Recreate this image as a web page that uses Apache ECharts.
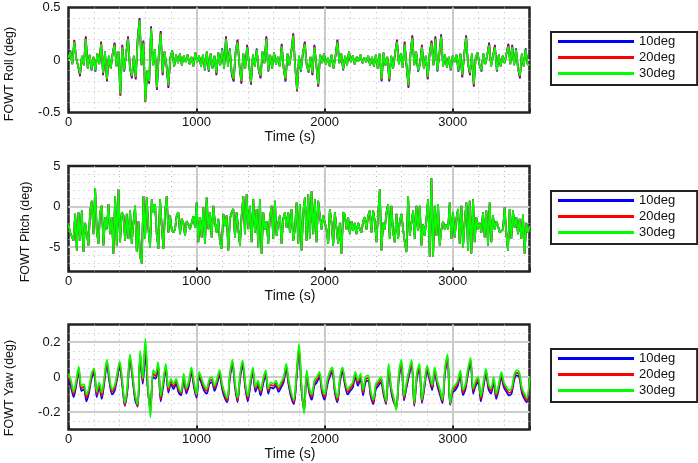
<!DOCTYPE html>
<html>
<head>
<meta charset="utf-8">
<title>FOWT roll / pitch / yaw</title>
<script src="https://cdn.jsdelivr.net/npm/echarts@6/dist/echarts.min.js"></script>
<style>
  html, body { margin: 0; padding: 0; background: #fff; }
  #chart { width: 698px; height: 463px; }
</style>
</head>
<body>
<div id="chart"></div>
<script>
// sample spacing (s) of the values
const rollStep = 15;
const pitchStep = 13;
const yawStep = 20;

const legendNames = ['10deg', '20deg', '30deg'];
const timeTicks = [0, 1000, 2000, 3000];

// Roll (deg)
const roll10 = [
  0.02,0.09,-0.04,0.19,0.02,-0.06,-0.155,0.04,-0.05,0.225,
  -0.08,0.05,-0.1,0.03,-0.11,0.06,-0.04,0.175,-0.145,0.08,
  -0.205,0.04,-0.08,0.06,0.165,-0.06,0.08,-0.34,0.145,-0.11,
  0.06,0.225,-0.08,-0.175,0.04,-0.185,0.205,0.4,-0.05,0.185,
  -0.395,-0.1,-0.225,0.32,-0.05,0.1,-0.285,0.05,0.275,-0.145,
  0.08,-0.05,-0.265,0.02,0.09,-0.06,0.05,-0.03,0.06,-0.05,
  0.04,-0.02,0.05,-0.04,0.03,-0.06,0.07,-0.02,0.04,-0.06,
  0.05,-0.1,0.08,-0.11,0.06,-0.08,0.04,-0.145,0.07,-0.05,
  0.11,-0.08,0.225,-0.06,0.11,-0.145,-0.205,0.08,0.195,-0.05,
  -0.225,0.06,-0.08,0.145,-0.04,-0.235,0.05,-0.06,0.11,-0.1,
  -0.175,0.08,-0.03,0.225,-0.11,0.05,-0.08,0.07,-0.04,0.03,
  -0.06,0.155,-0.08,-0.205,0.06,-0.05,0.08,0.255,-0.06,-0.3,
  0.04,-0.11,0.06,0.175,-0.05,-0.12,0.03,-0.145,0.145,-0.04,
  -0.255,0.05,-0.03,0.06,-0.04,0.02,-0.06,0.05,-0.08,0.04,
  0.195,-0.03,0.06,-0.1,0.04,-0.05,0.08,-0.02,0.04,-0.04,
  0.03,-0.01,0.05,-0.03,0.02,-0.02,0.04,-0.05,0.03,-0.06,
  0.05,-0.08,0.06,-0.205,0.07,-0.05,0.03,-0.205,0.04,-0.08,
  0.06,0.195,-0.04,0.06,-0.07,0.175,-0.06,-0.265,0.05,0.235,
  -0.05,0.08,-0.11,-0.04,0.145,-0.08,0.04,-0.185,0.06,0.185,
  -0.05,0.225,-0.11,0.04,0.245,-0.06,0.05,-0.07,0.03,-0.1,
  0.04,-0.02,0.05,-0.11,0.06,-0.165,0.05,0.235,-0.04,-0.145,
  0.06,-0.255,0.03,0.07,-0.05,-0.11,0.06,-0.04,0.05,0.165,
  -0.06,0.04,0.145,-0.11,0.05,-0.06,0.04,-0.03,0.06,0.155,
  -0.04,0.145,-0.05,0.11,-0.08,-0.175,0.06,-0.06,0.11,-0.04,
  -0.05
];
const roll20 = [
  0.02,0.08,-0.04,0.185,0.02,-0.06,-0.145,0.04,-0.05,0.215,
  -0.08,0.05,-0.09,0.03,-0.1,0.06,-0.04,0.165,-0.135,0.08,
  -0.195,0.04,-0.08,0.06,0.155,-0.06,0.08,-0.335,0.135,-0.1,
  0.06,0.215,-0.08,-0.165,0.04,-0.175,0.195,0.39,-0.05,0.175,
  -0.4,-0.1,-0.215,0.31,-0.05,0.1,-0.275,0.05,0.265,-0.135,
  0.08,-0.05,-0.255,0.02,0.09,-0.06,0.05,-0.03,0.06,-0.05,
  0.04,-0.02,0.05,-0.04,0.03,-0.06,0.07,-0.02,0.04,-0.06,
  0.05,-0.09,0.08,-0.1,0.06,-0.08,0.04,-0.135,0.07,-0.05,
  0.1,-0.08,0.215,-0.06,0.1,-0.135,-0.195,0.08,0.185,-0.05,
  -0.215,0.06,-0.08,0.135,-0.04,-0.225,0.05,-0.06,0.1,-0.09,
  -0.165,0.08,-0.03,0.215,-0.1,0.05,-0.08,0.07,-0.04,0.03,
  -0.06,0.145,-0.08,-0.195,0.06,-0.05,0.08,0.245,-0.06,-0.295,
  0.04,-0.1,0.06,0.165,-0.05,-0.11,0.03,-0.135,0.135,-0.04,
  -0.245,0.05,-0.03,0.06,-0.04,0.02,-0.06,0.05,-0.08,0.04,
  0.185,-0.03,0.06,-0.09,0.04,-0.05,0.08,-0.02,0.04,-0.04,
  0.03,-0.01,0.05,-0.03,0.02,-0.02,0.04,-0.05,0.03,-0.06,
  0.05,-0.08,0.06,-0.195,0.07,-0.05,0.03,-0.195,0.04,-0.08,
  0.06,0.185,-0.04,0.06,-0.07,0.165,-0.06,-0.255,0.05,0.225,
  -0.05,0.08,-0.1,-0.04,0.135,-0.08,0.04,-0.175,0.06,0.175,
  -0.05,0.215,-0.1,0.04,0.235,-0.06,0.05,-0.07,0.03,-0.09,
  0.04,-0.02,0.05,-0.1,0.06,-0.155,0.05,0.225,-0.04,-0.135,
  0.06,-0.245,0.03,0.07,-0.05,-0.1,0.06,-0.04,0.05,0.155,
  -0.06,0.04,0.135,-0.1,0.05,-0.06,0.04,-0.03,0.06,0.145,
  -0.04,0.135,-0.05,0.1,-0.08,-0.165,0.06,-0.06,0.1,-0.04,
  -0.05
];
const roll30 = [
  0.02,0.08,-0.04,0.17,0.02,-0.06,-0.13,0.04,-0.05,0.2,
  -0.08,0.05,-0.09,0.03,-0.1,0.06,-0.04,0.15,-0.12,0.08,
  -0.18,0.04,-0.08,0.06,0.14,-0.06,0.08,-0.32,0.12,-0.1,
  0.06,0.2,-0.08,-0.15,0.04,-0.16,0.18,0.38,-0.05,0.16,
  -0.39,-0.1,-0.2,0.3,-0.05,0.1,-0.26,0.05,0.25,-0.12,
  0.08,-0.05,-0.24,0.02,0.09,-0.06,0.05,-0.03,0.06,-0.05,
  0.04,-0.02,0.05,-0.04,0.03,-0.06,0.07,-0.02,0.04,-0.06,
  0.05,-0.09,0.08,-0.1,0.06,-0.08,0.04,-0.12,0.07,-0.05,
  0.1,-0.08,0.2,-0.06,0.1,-0.12,-0.18,0.08,0.17,-0.05,
  -0.2,0.06,-0.08,0.12,-0.04,-0.21,0.05,-0.06,0.1,-0.09,
  -0.15,0.08,-0.03,0.2,-0.1,0.05,-0.08,0.07,-0.04,0.03,
  -0.06,0.13,-0.08,-0.18,0.06,-0.05,0.08,0.23,-0.06,-0.28,
  0.04,-0.1,0.06,0.15,-0.05,-0.11,0.03,-0.12,0.12,-0.04,
  -0.23,0.05,-0.03,0.06,-0.04,0.02,-0.06,0.05,-0.08,0.04,
  0.17,-0.03,0.06,-0.09,0.04,-0.05,0.08,-0.02,0.04,-0.04,
  0.03,-0.01,0.05,-0.03,0.02,-0.02,0.04,-0.05,0.03,-0.06,
  0.05,-0.08,0.06,-0.18,0.07,-0.05,0.03,-0.18,0.04,-0.08,
  0.06,0.17,-0.04,0.06,-0.07,0.15,-0.06,-0.24,0.05,0.21,
  -0.05,0.08,-0.1,-0.04,0.12,-0.08,0.04,-0.16,0.06,0.16,
  -0.05,0.2,-0.1,0.04,0.22,-0.06,0.05,-0.07,0.03,-0.09,
  0.04,-0.02,0.05,-0.1,0.06,-0.14,0.05,0.21,-0.04,-0.12,
  0.06,-0.23,0.03,0.07,-0.05,-0.1,0.06,-0.04,0.05,0.14,
  -0.06,0.04,0.12,-0.1,0.05,-0.06,0.04,-0.03,0.06,0.13,
  -0.04,0.12,-0.05,0.1,-0.08,-0.15,0.06,-0.06,0.1,-0.04,
  -0.05
];

// Pitch (deg) - the three curves sit on top of each other in the picture
const pitch30 = [
  -2.2,-3.2,-3.2,-4.2,-0.9,-5.4,-0.7,-4.2,-0.5,-5.6,
  -2.0,-1.8,-4.8,-0.5,0.7,-3.4,2.3,-3.0,-4.6,-0.7,
  0.1,-4.8,-1.3,-2.8,0.3,-3.4,-1.3,-5.8,1.3,-4.8,
  2.1,-4.4,-0.7,-1.1,-4.2,-0.9,-4.0,-0.5,-4.6,-2.0,
  0.1,-5.6,-1.8,-6.2,-7.0,1.3,-4.0,1.1,-2.8,-5.0,
  0.9,-0.7,0.3,-3.4,-5.2,0.9,-2.4,-5.2,-0.7,1.3,
  -3.2,-1.1,-2.8,-3.2,-2.8,-1.1,-0.7,-3.4,-1.5,-2.0,
  -3.6,-1.8,-2.2,-2.8,-2.6,-1.2,-2.6,0.5,-4.4,-1.3,
  -3.8,-0.1,-4.6,1.1,-2.8,-0.7,-3.8,0.1,-2.0,-3.2,
  -1.5,-4.4,-5.2,-0.9,-2.4,-1.1,-5.4,-1.5,-0.7,-0.3,
  -3.8,-0.7,-2.8,-4.8,-1.1,1.3,-3.4,1.5,-2.8,0.1,
  -4.4,0.9,-3.2,-0.3,-5.0,0.9,-5.8,-0.7,-2.8,-1.8,
  -4.6,-1.3,0.1,-4.0,0.7,-3.6,-2.0,-1.1,-4.6,-1.5,
  -0.7,-2.6,
  -0.7,-3.2,-0.3,-4.2,-2.8,0.5,-4.6,0.3,-5.4,-0.7,
  1.1,-4.2,1.5,-4.0,1.9,-3.4,0.9,-4.4,0.7,-1.1,
  -2.8,-1.1,-2.0,-2.8,-4.6,-0.3,-2.0,-4.8,-0.7,-0.9,
  -4.6,-2.0,-5.8,-0.7,-1.0,-2.8,-1.3,-3.4,-1.8,-3.0,
  -2.0,-3.4,-2.0,-2.8,-3.2,-1.8,-1.3,-2.8,-1.1,-0.5,
  -3.2,-0.5,-1.8,-4.4,-0.9,2.1,-5.4,-2.0,-2.8,-0.7,
  0.3,-4.0,0.1,-3.2,-4.4,-0.9,-4.0,-1.8,-0.9,-2.8,
  -4.4,-5.6,1.3,-3.6,-2.0,-0.5,-4.0,0.1,-3.0,0.1,
  -4.8,-2.2,-3.6,-1.5,0.9,-6.2,3.5,-6.2,0.1,-3.6,
  0.3,-4.8,-2.8,-1.8,-2.8,-2.2,-2.8,0.5,-4.0,-0.7,
  -3.8,-1.5,-0.3,-4.6,0.1,-5.0,-1.8,0.5,-5.4,0.7,
  -5.8,0.9,-4.4,-1.3,-2.8,-2.0,-3.2,-0.7,-3.8,-0.5,
  -4.8,0.5,-4.4,-1.1,-2.8,-1.8,-2.4,-3.2,-3.4,-2.8,
  -0.1,-3.4,-5.4,-0.3,-4.0,-0.5,-2.6,-1.3,-3.4,
  -1.5,-4.0,-1.0,-5.8,-2.0,-3.2,-2.4
];
const pitch20 = pitch30;
const pitch10 = pitch30;

// Yaw (deg)
const yaw10 = [
  -0.01,-0.06,-0.115,-0.05,0.03,-0.08,-0.07,-0.14,-0.09,-0.01,
  0.02,-0.115,-0.06,-0.125,-0.03,0.065,-0.03,-0.1,-0.08,-0.01,
  0.06,-0.05,-0.165,-0.08,0.1,-0.01,-0.13,-0.17,0.11,-0.04,
  0.13,-0.08,-0.18,0.0,-0.01,0.05,-0.14,-0.05,0.045,-0.09,
  -0.04,-0.07,-0.04,-0.09,-0.105,-0.01,-0.095,-0.05,0.025,-0.06,
  -0.12,0.0,-0.04,-0.08,-0.095,-0.04,-0.03,-0.08,-0.04,0.01,
  -0.07,-0.12,-0.145,-0.01,0.07,-0.06,-0.145,-0.01,0.065,-0.06,
  -0.14,-0.05,0.025,-0.085,-0.05,-0.105,-0.04,0.01,-0.095,-0.06,
  -0.065,-0.05,-0.085,-0.06,-0.03,0.045,-0.05,-0.12,-0.155,-0.02,
  0.15,-0.08,-0.185,0.01,-0.09,-0.13,-0.05,-0.03,0.0,-0.09,
  -0.13,-0.05,0.0,0.025,-0.09,-0.145,-0.03,0.025,-0.05,-0.1,
  -0.08,-0.06,0.0,-0.05,-0.01,-0.105,-0.03,-0.02,-0.11,-0.155,
  -0.07,-0.05,-0.03,-0.1,-0.155,0.045,-0.085,-0.145,-0.17,-0.01,
  0.07,-0.135,-0.06,0.01,0.07,-0.165,-0.01,0.045,-0.15,-0.06,
  0.035,-0.02,-0.075,0.025,-0.05,-0.1,-0.15,0.02,0.1,-0.16,
  -0.09,-0.075,-0.05,0.008,-0.105,-0.07,0.02,0.08,-0.095,-0.05,
  -0.03,-0.14,-0.06,0.017,-0.07,-0.095,-0.03,-0.125,-0.07,-0.002,
  -0.06,-0.085,-0.105,-0.095,-0.02,0.01,-0.002,-0.09,-0.125,-0.145,
  -0.03
];
const yaw20 = [
  0.0,-0.04,-0.1,-0.035,0.045,-0.065,-0.055,-0.12,-0.075,0.005,
  0.035,-0.1,-0.045,-0.11,-0.015,0.085,-0.015,-0.085,-0.065,0.005,
  0.075,-0.035,-0.16,-0.065,0.115,0.005,-0.115,-0.165,0.13,-0.025,
  0.19,-0.065,-0.2,0.02,0.005,0.07,-0.125,-0.035,0.06,-0.075,
  -0.025,-0.055,-0.025,-0.075,-0.095,0.005,-0.08,-0.035,0.04,-0.045,
  -0.11,0.015,-0.025,-0.065,-0.08,-0.025,-0.015,-0.065,-0.025,0.025,
  -0.055,-0.105,-0.135,0.005,0.085,-0.045,-0.135,0.005,0.08,-0.045,
  -0.125,-0.035,0.04,-0.07,-0.035,-0.09,-0.025,0.025,-0.08,-0.045,
  -0.05,-0.035,-0.07,-0.045,-0.015,0.06,-0.035,-0.105,-0.145,0.0,
  0.17,-0.065,-0.2,0.025,-0.075,-0.115,-0.035,-0.015,0.015,-0.075,
  -0.115,-0.035,0.015,0.04,-0.075,-0.135,-0.015,0.04,-0.035,-0.085,
  -0.065,-0.045,0.015,-0.035,0.005,-0.09,-0.015,-0.005,-0.095,-0.145,
  -0.055,-0.035,-0.015,-0.085,-0.15,0.06,-0.07,-0.135,-0.18,0.005,
  0.085,-0.125,-0.045,0.025,0.085,-0.16,0.005,0.06,-0.14,-0.045,
  0.05,-0.005,-0.06,0.04,-0.035,-0.085,-0.14,0.035,0.115,-0.155,
  -0.075,-0.06,-0.035,0.023,-0.09,-0.055,0.035,0.095,-0.08,-0.035,
  -0.015,-0.125,-0.045,0.032,-0.055,-0.08,-0.015,-0.11,-0.055,0.013,
  -0.045,-0.07,-0.09,-0.08,-0.005,0.025,0.013,-0.075,-0.11,-0.135,
  -0.015
];
const yaw30 = [
  0.02,-0.02,-0.085,-0.02,0.06,-0.05,-0.04,-0.1,-0.06,0.02,
  0.05,-0.085,-0.03,-0.09,0.0,0.1,0.0,-0.07,-0.05,0.02,
  0.09,-0.02,-0.15,-0.05,0.13,0.02,-0.1,-0.155,0.15,-0.01,
  0.22,-0.05,-0.23,0.04,0.02,0.085,-0.11,-0.02,0.075,-0.06,
  -0.01,-0.04,-0.01,-0.06,-0.085,0.02,-0.065,-0.02,0.055,-0.03,
  -0.1,0.03,-0.01,-0.05,-0.065,-0.01,0.0,-0.05,-0.01,0.04,
  -0.04,-0.09,-0.12,0.02,0.1,-0.03,-0.12,0.02,0.095,-0.03,
  -0.11,-0.02,0.055,-0.057,-0.02,-0.075,-0.01,0.04,-0.066,-0.03,
  -0.038,-0.02,-0.057,-0.03,0.0,0.075,-0.02,-0.09,-0.13,0.02,
  0.19,-0.05,-0.21,0.04,-0.06,-0.1,-0.02,0.0,0.03,-0.06,
  -0.1,-0.02,0.03,0.055,-0.06,-0.12,0.0,0.055,-0.02,-0.07,
  -0.05,-0.03,0.03,-0.02,0.02,-0.075,0.0,0.01,-0.08,-0.13,
  -0.04,-0.02,0.0,-0.07,-0.14,0.075,-0.057,-0.12,-0.19,0.02,
  0.1,-0.11,-0.03,0.04,0.1,-0.15,0.02,0.075,-0.13,-0.03,
  0.065,0.01,-0.047,0.055,-0.02,-0.07,-0.13,0.05,0.13,-0.15,
  -0.06,-0.047,-0.02,0.038,-0.075,-0.04,0.05,0.11,-0.066,-0.02,
  0.0,-0.11,-0.03,0.047,-0.04,-0.066,0.0,-0.095,-0.04,0.028,
  -0.03,-0.057,-0.075,-0.066,0.01,0.04,0.028,-0.06,-0.094,-0.12,
  0.0
];

const FONT = '"Liberation Sans", Arial, Helvetica, sans-serif';
const colors = ['#0000ff', '#ff0000', '#00ff00'];

// Panel layout
const panels = [
  { title: 'FOWT Roll (deg)', step: rollStep, series: [roll10, roll20, roll30],
    min: -0.5, max: 0.5, minor: 0.1, major: 0.5, majorLines: [0],
    top: 7.5, height: 105, nameX: 10, nameY: 74, legendTop: 32, smooth: false },
  { title: 'FOWT Pitch (deg)', step: pitchStep, series: [pitch10, pitch20, pitch30],
    min: -8, max: 5, minor: 1, major: 5, majorLines: [0, -5],
    top: 166, height: 105.5, nameX: 26, nameY: 232, legendTop: 191, smooth: false },
  { title: 'FOWT Yaw (deg)', step: yawStep, series: [yaw10, yaw20, yaw30],
    min: -0.3, max: 0.3, minor: 0.05, major: 0.2, majorLines: [0.2, 0, -0.2],
    top: 324.5, height: 105, nameX: 10, nameY: 388, legendTop: 349, smooth: 0.3 }
];

const PLOT_LEFT = 68.5;
const PLOT_WIDTH = 461;

const chart = echarts.init(document.getElementById('chart'));

const grid = [];
const xAxis = [];
const yAxis = [];
const series = [];
const legend = [];
const graphic = [];

const dotted = { color: '#b8b8b8', width: 1, type: [1, 4] };

panels.forEach((p, idx) => {
  grid.push({
    left: PLOT_LEFT, top: p.top, width: PLOT_WIDTH, height: p.height,
    show: true, borderColor: '#222', borderWidth: 2.5, backgroundColor: '#fff',
    containLabel: false, outerBoundsMode: 'none'
  });

  // bottom axis: labels, major ticks, solid major grid
  xAxis.push({
    type: 'value', gridIndex: idx, position: 'bottom', min: 0, max: 3600, interval: 1000,
    name: 'Time (s)', nameLocation: 'middle', nameGap: 18,
    nameTextStyle: { fontSize: 14, color: '#111', fontFamily: FONT, padding: [0, 18, 0, 0] },
    axisLine: { show: false, onZero: false },
    axisTick: { show: true, inside: true, length: 4, lineStyle: { color: '#222', width: 2 } },
    axisLabel: { fontSize: 13, color: '#111', fontFamily: FONT, margin: 3,
      formatter: v => (timeTicks.indexOf(v) >= 0 ? String(v) : '') },
    splitLine: { show: true, showMinLine: false, showMaxLine: false,
      lineStyle: { color: '#cccccc', width: 2 } }
  });
  // top axis: only the dotted minor grid every 200 s
  xAxis.push({
    type: 'value', gridIndex: idx, position: 'top', min: 0, max: 3600, interval: 200,
    axisLine: { show: false, onZero: false }, axisTick: { show: false }, axisLabel: { show: false },
    splitLine: { show: true, showMinLine: false, showMaxLine: false, lineStyle: dotted }
  });

  yAxis.push({
    type: 'value', gridIndex: idx, min: p.min, max: p.max, interval: p.minor,
    axisLine: { show: false, onZero: false }, axisTick: { show: false },
    axisLabel: {
      fontSize: 13, color: '#111', fontFamily: FONT, margin: 8,
      formatter: v => {
        const r = v / p.major;
        return Math.abs(r - Math.round(r)) < 1e-6 ? String(Math.round(v * 100) / 100) : '';
      }
    },
    splitLine: { show: true, showMinLine: false, showMaxLine: false, lineStyle: dotted }
  });

  p.series.forEach((vals, j) => {
    series.push({
      type: 'line',
      name: legendNames[j],
      xAxisIndex: idx * 2,
      yAxisIndex: idx,
      data: vals.map((v, i) => [i * p.step, v]),
      showSymbol: false,
      symbol: 'none',
      smooth: p.smooth,
      clip: true,
      z: 3 + j,
      lineStyle: { color: colors[j], width: 1.7 },
      itemStyle: { color: colors[j] },
      markLine: j === 0 ? {
        silent: true, symbol: 'none', z: 1, animation: false,
        label: { show: false },
        lineStyle: { color: '#cccccc', width: 2, type: 'solid' },
        data: p.majorLines.map(y => ({ yAxis: y }))
      } : undefined
    });
  });

  legend.push({
    orient: 'vertical', left: 551, top: p.legendTop,
    icon: 'rect', itemWidth: 76, itemHeight: 3, itemGap: 3,
    padding: [3, 22, 5, 7],
    borderColor: '#222', borderWidth: 2, backgroundColor: '#fff',
    selectedMode: false,
    textStyle: { fontSize: 13, color: '#111', fontFamily: FONT },
    data: legendNames
  });

  graphic.push({
    type: 'text', x: p.nameX, y: p.nameY, rotation: Math.PI / 2,
    style: {
      text: p.title, fontSize: 12.5, fontFamily: FONT, fill: '#111',
      align: 'center', verticalAlign: 'middle',
      textAlign: 'center', textVerticalAlign: 'middle'
    }
  });
});

chart.setOption({
  animation: false,
  backgroundColor: '#fff',
  textStyle: { fontFamily: FONT },
  grid: grid,
  xAxis: xAxis,
  yAxis: yAxis,
  legend: legend,
  graphic: graphic,
  series: series
});
</script>
</body>
</html>
